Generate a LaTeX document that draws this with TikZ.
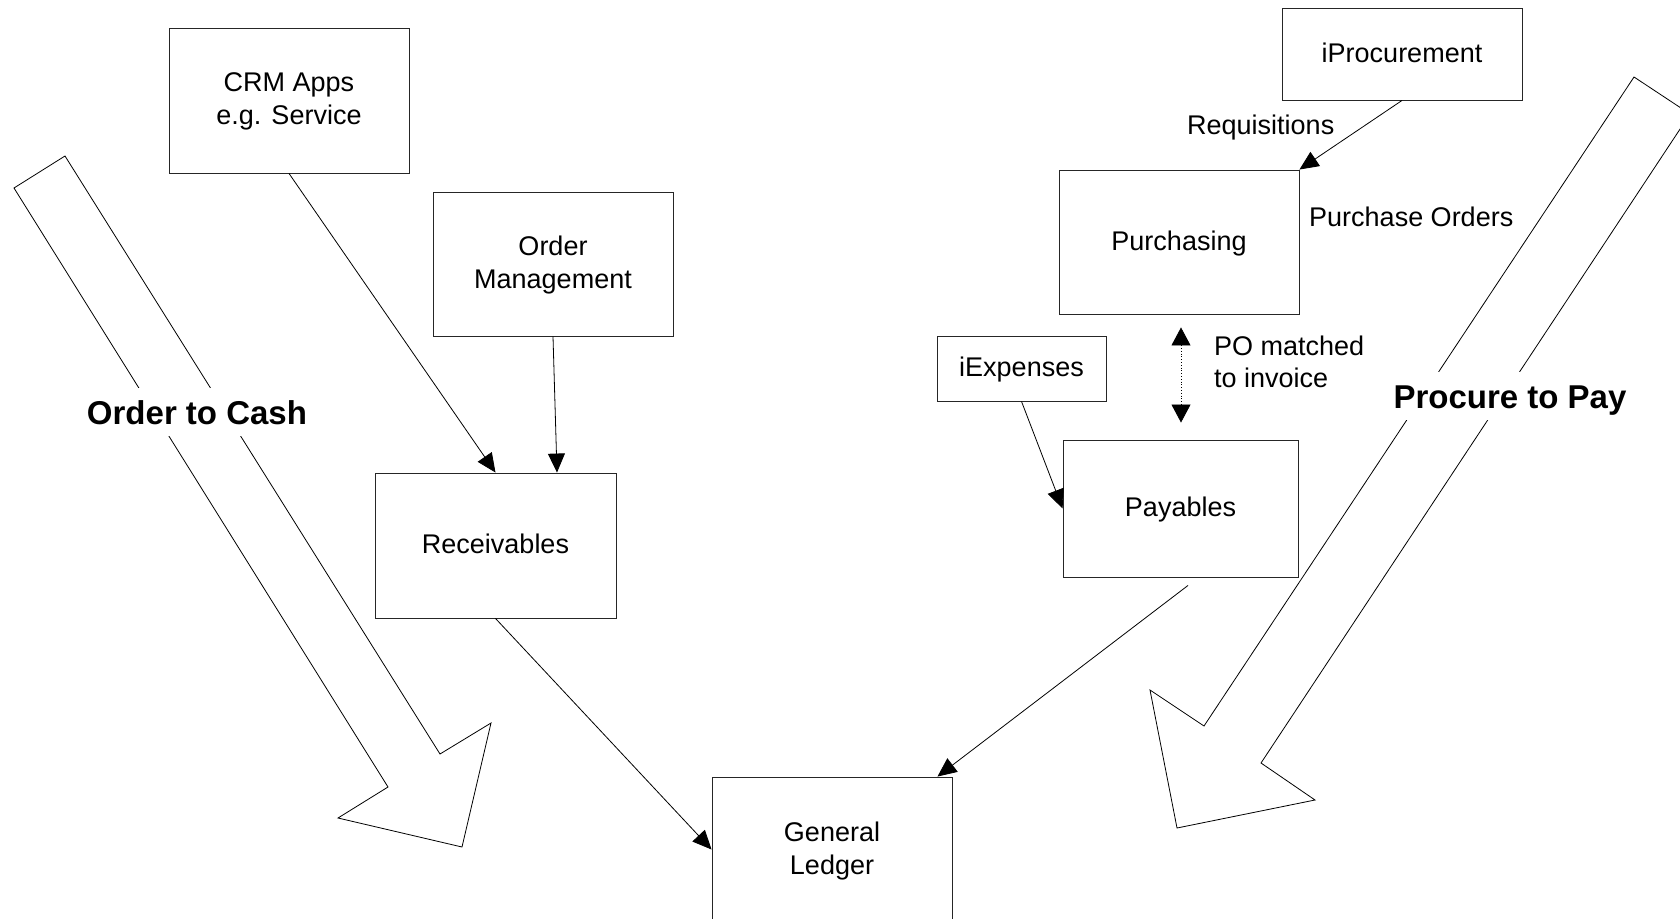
\documentclass[tikz,border=0pt]{standalone}
\usepackage{fontspec}
\setmainfont{Liberation Sans}
\usetikzlibrary{arrows.meta,calc}
\begin{document}
\begin{tikzpicture}[x=1pt,y=-1pt,
  box/.style={draw=black!85, line width=0.9pt, inner sep=0pt, align=center, font=\fontsize{27}{33}\selectfont},
  onel/.style={box, text height=22pt, text depth=6pt},
  twol/.style={box, text depth=3.5pt},
  conn/.style={-{Triangle[length=19pt,width=17pt]}, line width=0.8pt},
  lbl/.style={inner sep=0pt, font=\fontsize{27}{32.5}\selectfont},
  flow/.style={draw, line width=0.8pt},
  flowlbl/.style={fill=white, inner xsep=4pt, inner ysep=12pt, text height=24pt, text depth=0pt, font=\fontsize{33}{38}\bfseries}
]
\path[use as bounding box] (0,0) rectangle (1680,918);
\clip (0,0) rectangle (1680,918);

% big process arrows
\draw[flow] (65,156) -- (440,754) -- (491,723) -- (462,847) -- (338,818) -- (388,787) -- (14,188) -- cycle;
\node[flowlbl, anchor=base] (o2c) at (197,424) {Order to Cash};
\draw[flow] (1634,77) -- (1690,114) -- (1261,763) -- (1315,800) -- (1177,828) -- (1150,690) -- (1204,726) -- cycle;
\node[flowlbl, anchor=base] (p2p) at (1510,408) {Procure to Pay};

% boxes
\node[twol, minimum width=240pt, minimum height=145pt] (crm) at (289,100.5) {CRM Apps\\e.g. Service};
\node[twol, minimum width=240pt, minimum height=144pt] (om) at (553,264) {Order\\Management};
\node[onel, minimum width=241pt, minimum height=145pt] (rec) at (495.5,545.5) {Receivables};
\node[twol, minimum width=240pt, minimum height=145pt] (gl) at (832,849.5) {General\\Ledger};
\node[onel, minimum width=240pt, minimum height=92pt] (iproc) at (1402,54) {iProcurement};
\node[onel, minimum width=240pt, minimum height=144pt] (purch) at (1179,242) {Purchasing};
\node[onel, minimum width=169pt, minimum height=65pt] (iexp) at (1021.5,368.5) {iExpenses};
\node[onel, minimum width=235pt, minimum height=137pt] (pay) at (1180.5,508.5) {Payables};

% connectors
\draw[conn] (crm.south) -- (rec.north);
\draw[conn] (om.south) -- ($(rec.north)+(61.5,0)$);
\draw[conn] (rec.south) -- (gl.west);
\draw[conn] ($(pay.south)+(7.5,8)$) -- ($(gl.north east)+(-15,0)$);
\draw[conn] (iexp.south) -- (pay.west);
\draw[conn] (iproc.south) -- (purch.north east);
\draw[dotted, line width=0.8pt, {Triangle[length=18pt,width=19pt]}-{Triangle[length=18pt,width=19pt]}, shorten <=13pt, shorten >=17pt] ($(purch.south)+(2,0)$) -- ($(pay.north)+(0.5,0)$);

% labels
\node[lbl, anchor=base west] (req) at (1187,134) {Requisitions};
\node[lbl, anchor=base west] (po) at (1309,226) {Purchase Orders};
\node[lbl, anchor=north west, align=left] (match) at (1214,335.5) {PO matched\\to invoice};
\end{tikzpicture}
\end{document}
